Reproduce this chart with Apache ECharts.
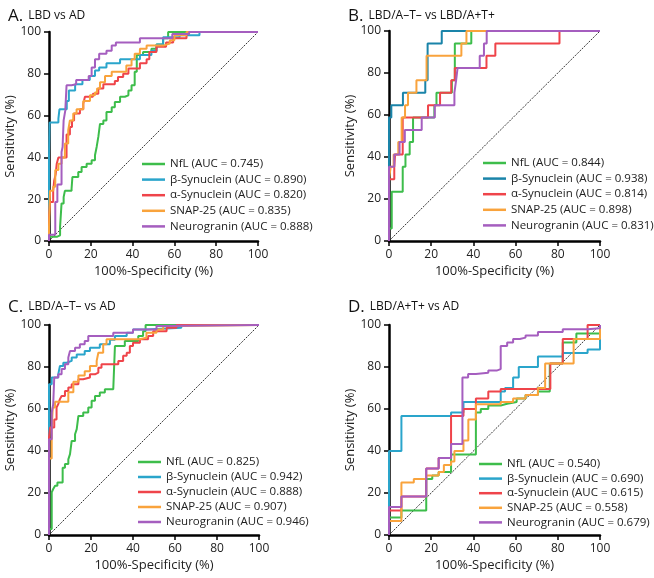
<!DOCTYPE html>
<html><head><meta charset="utf-8">
<script src="https://cdn.jsdelivr.net/npm/echarts@6/dist/echarts.min.js"></script>
<style>html,body{margin:0;padding:0;background:#fff}#c{width:654px;height:578px}</style>
</head><body><div id="c"></div>
<script>
// ---- data (x = 100%-Specificity, y = Sensitivity), step points ----
const markers = ['NfL','β-Synuclein','α-Synuclein','SNAP-25','Neurogranin'];
const panelLetters = ['A.','B.','C.','D.'];
const panelTitles = ['LBD vs AD','LBD/A\u2013T\u2013 vs LBD/A+T+','LBD/A\u2013T\u2013 vs AD','LBD/A+T+ vs AD'];
const aucA = ['0.745','0.890','0.820','0.835','0.888'];
const aucB = ['0.844','0.938','0.814','0.898','0.831'];
const aucC = ['0.825','0.942','0.888','0.907','0.946'];
const aucD = ['0.540','0.690','0.615','0.558','0.679'];
const xTicks = [0,20,40,60,80,100];
const yTicks = [0,20,40,60,80,100];

const A_NfL = [[0,0],[0,2],[3.7,2.7],[5.3,6.7],[6,18],[7,21],[7.6,24],[10.8,25],[11.2,30.6],[14,33],[15.6,35.4],[18,37],[20.4,38.6],[22,41],[22.8,45],[23.6,49.8],[24.4,56],[26,57.7],[27.5,61.7],[30,64],[31.5,66.5],[34,69],[36.3,69.7],[38,72],[39.5,74.5],[41,81],[42,89],[45,90.4],[49,92],[51.4,94],[54.6,97],[57,100],[100,100]];
const A_Beta = [[0,0],[0,40],[0.3,56.7],[4.5,58.5],[5,63],[8.5,67],[9.5,72],[12.5,75],[16,77],[19.5,79],[22,81.6],[24,83],[27.5,85],[34,87],[43.5,89],[49,91],[51.5,94],[54.6,97.5],[62.5,98.5],[72,100],[100,100]];
const A_Alpha = [[0,0],[0,11.5],[0.5,18.7],[2,24],[2.5,29],[3.2,32],[3.7,37],[4.5,40],[8.4,51],[10,54.5],[11,57.7],[12,61],[14.8,63],[16.4,65.7],[17.2,69],[21,70.5],[23.6,73],[26,75],[31.5,76.5],[33,78.5],[35.5,80],[38,82.5],[43.5,85],[46.7,87],[48,90.4],[51.4,93],[56,95],[59.4,97],[65.8,99],[67,100],[100,100]];
const A_SNAP = [[0,0],[0,6.7],[0.5,24],[2,26],[3,34],[4.5,37],[6,40],[7.6,46.6],[9.2,53],[10,57.7],[11.6,61],[13.2,63],[16.4,67],[19.6,69.7],[22,71],[23,73],[24.4,76],[26.8,79],[30,81],[37,84],[39.5,87],[41,89.6],[43.5,92],[46.7,93.6],[55,94.5],[57.8,96],[60,98.4],[65.8,100],[100,100]];
const A_Neuro = [[0,0],[0,3],[3,18.7],[4,27],[6,42.6],[6.5,45],[7,57.7],[7.8,62.5],[8.4,74.5],[10.8,75],[13,77],[19,79],[20.4,83],[22,87],[24,89.6],[27.5,91],[30,93.6],[32,95],[43.5,97],[59,99],[67,100],[100,100]];

const B_NfL = [[0,0],[0,5.9],[1.3,23.5],[6.5,35.3],[7.8,41.2],[9.8,47.1],[11.4,58.8],[21.5,64.7],[22.5,70.6],[29.8,76.5],[31.2,94.1],[39,100],[100,100]];
const B_Beta = [[0,0],[0,58.8],[1.1,64.7],[6.6,70.6],[17.2,76.5],[18.3,94.1],[25,100],[100,100]];
const B_Alpha = [[0,0],[0,29.4],[2.5,35.3],[2.9,41.2],[6.5,58.8],[18.5,64.7],[24.2,70.6],[29.5,76.5],[31.2,82.4],[46.2,88.2],[50.4,94.1],[80.8,100],[100,100]];
const B_SNAP = [[0,0],[0,29.4],[0.8,35.3],[2.2,41.2],[4.4,47.1],[6,58.8],[7.6,64.7],[9,70.6],[13,76.5],[17.8,88.2],[34.3,94.1],[36.7,100],[100,100]];
const B_Neuro = [[0,0],[0,35.3],[2.5,41.2],[5,47.1],[7.5,52.9],[15.5,58.8],[21.7,64.7],[31,70.6],[31.8,76.5],[32.5,82.4],[43,88.2],[45,94.1],[46.3,100],[100,100]];

const C_NfL = [[0,0],[0,2.9],[1.3,20.3],[2,21.9],[2.9,23.5],[4,25],[6.5,32],[7.6,33.8],[9.2,36],[10,38.5],[10.8,44.8],[12.4,48],[13.2,50.4],[14,56.7],[16.3,58.3],[18.7,60.7],[20.3,63.9],[21.9,66.2],[24.2,67.8],[26.6,69.4],[30.6,70.2],[31.4,90],[36.1,92.4],[42.5,94.8],[44.8,97],[46,100],[100,100]];
const C_Beta = [[0,0],[0,71.8],[1.3,75],[4.4,76.5],[5.2,80.5],[6.8,82],[8.4,82.9],[10.8,84.5],[13.2,86],[17,87.6],[19.5,89.2],[24.2,90.8],[29,93],[31.4,94.8],[37,96.3],[40,97.9],[46.4,98.7],[63,100],[100,100]];
const C_Alpha = [[0,0],[0,46.4],[0.5,51.2],[2.5,55],[3.6,60.7],[4.4,62.3],[5.2,64.7],[6,66.2],[7.6,68.6],[9.2,70.2],[10.8,71.8],[14,74.2],[16.3,75],[19.5,76.5],[21.9,77.3],[23.5,79.7],[25,81.3],[33,82.9],[35.3,85.3],[37,86.8],[38.5,90],[40,91.6],[43.3,93.2],[47.2,94.8],[49.6,97],[56,98.7],[60.7,100],[100,100]];
const C_SNAP = [[0,0],[0,36.4],[1.3,50.4],[1.8,60.7],[2.9,63.5],[9.2,68],[11.6,73],[14,76],[17,78],[19.5,80.5],[22.7,82.9],[23.5,86.8],[25.8,90.8],[27.4,93.2],[43.3,94],[46.4,96.3],[51.2,97.9],[54.4,99.5],[60,100],[100,100]];
const C_Neuro = [[0,0],[0,45.6],[1.3,58.3],[2,62.3],[2.5,75],[4.4,76.5],[6,79],[7.6,81.3],[9.2,84.5],[10,87.6],[12.4,89.2],[14.7,90.8],[17,92.4],[18.7,94.8],[30.6,96.3],[40,97.9],[51.2,99.5],[54.4,100],[100,100]];

const D_NfL = [[0,0],[0,8.3],[5.88,11.7],[17.65,26.7],[20.5,28.3],[23.53,30],[29.41,38.3],[41.18,58.3],[43.5,60],[47.06,61.7],[52.94,62.5],[56,63.3],[60.5,65],[64.71,66.7],[70.59,68.3],[76.2,81.7],[82.35,91.7],[88.8,96],[100,100]];
const D_Beta = [[0,0],[0,40],[5.88,56.7],[29.41,58.3],[35.29,63.3],[52.94,68.3],[55,70],[58.82,75],[61.5,80],[70.59,85],[82.35,86.7],[94.12,88.3],[100,100]];
const D_Alpha = [[0,0],[0,11.7],[5.88,18.3],[17.65,31.7],[23.53,36.7],[29.41,56.7],[35.29,60],[41.18,65],[47.06,68.3],[52.94,69.5],[76.47,81.7],[82.35,93.3],[94.12,100],[100,100]];
const D_SNAP = [[0,0],[0,6.7],[5.88,25],[11.76,26.7],[17.65,28.3],[23.53,30],[26,33.3],[29.41,35],[31,40],[35.29,45],[37.6,55],[41.18,62.3],[52.94,63.3],[58.82,65],[64.71,66.7],[70.59,70],[74,81.7],[87.5,93.3],[100,100]];
const D_Neuro = [[0,0],[0,13.3],[5.88,18.3],[17.65,31.7],[23.53,36.7],[29.41,43.3],[34.8,75],[37.5,76.7],[41.18,77.3],[47.06,78.3],[51,79],[52.94,90],[56,91.7],[58.82,93.3],[62,94],[64.71,95],[70.59,96.7],[82.35,98],[94.12,98.5],[100,100]];

const diagonal = [[0,0],[100,100]];

const panelData = [
  [A_NfL,A_Beta,A_Alpha,A_SNAP,A_Neuro],
  [B_NfL,B_Beta,B_Alpha,B_SNAP,B_Neuro],
  [C_NfL,C_Beta,C_Alpha,C_SNAP,C_Neuro],
  [D_NfL,D_Beta,D_Alpha,D_SNAP,D_Neuro]
];
const panelAUC = [aucA,aucB,aucC,aucD];

// ---- styles / layout ----
const FONT = '"Open Sans", "Noto Sans", sans-serif';
const colorsAll = ['#3dbd4b','#2aa5cb','#ef444a','#f9a33c','#a55ebf'];
const colorsB = ['#3dbd4b','#1a84a9','#ef444a','#f9a33c','#a55ebf'];
const grids = [
  {left:49, top:32, width:209, height:209},
  {left:389, top:31, width:211, height:210},
  {left:49, top:325, width:210, height:210},
  {left:389, top:325, width:211, height:210}
];
const titlePos = [[3,2],[343,2],[3,293],[343,293]];
const legendPos = [[142,158,3.6],[483,157,3.6],[138,456,3],[479,458,2.6]];

const chart = echarts.init(document.getElementById('c'), null, {renderer:'canvas'});
const option = {
  animation:false,
  backgroundColor:'#fff',
  title: [], grid: [], xAxis: [], yAxis: [], legend: [], series: []
};
for (let p=0;p<4;p++){
  option.title.push({
    text:'{a|'+panelLetters[p]+'} {b|'+panelTitles[p]+'}',
    left:titlePos[p][0], top:titlePos[p][1],
    textStyle:{fontWeight:'normal', rich:{
      a:{fontSize:17,fontFamily:FONT,color:'#111',fontWeight:'normal'},
      b:{fontSize:12,fontFamily:FONT,color:'#111',fontWeight:'normal'}}}
  });
  option.grid.push(Object.assign({containLabel:false}, grids[p]));
  const axisCommon = {
    type:'value', min:0, max:100, interval:20, gridIndex:p,
    axisLine:{show:true, onZero:false, lineStyle:{color:'#000', width:2.5}},
    axisTick:{show:true, inside:false, length:5, lineStyle:{color:'#000', width:1.5}},
    splitLine:{show:false},
    axisLabel:{fontSize:12, fontFamily:FONT, color:'#222'},
    nameLocation:'middle',
    nameTextStyle:{fontSize:13, fontFamily:FONT, color:'#222'}
  };
  option.xAxis.push(Object.assign({}, axisCommon, {name:'100%-Specificity (%)', nameGap:24, axisLabel:Object.assign({}, axisCommon.axisLabel,{margin:8})}));
  option.yAxis.push(Object.assign({}, axisCommon, {name:'Sensitivity (%)', nameGap:29, axisLabel:Object.assign({}, axisCommon.axisLabel,{margin:8})}));
  const cols = p===1 ? colorsB : colorsAll;
  const names = markers.map((m,i)=> m+' (AUC = '+panelAUC[p][i]+')');
  option.series.push({
    type:'line', xAxisIndex:p, yAxisIndex:p, data:diagonal, symbol:'none', silent:true,
    lineStyle:{color:'#000', width:0.8, type:[2,1.2]}, z:1
  });
  for (let i=0;i<5;i++){
    option.series.push({
      name:names[i], type:'line', xAxisIndex:p, yAxisIndex:p, step:'end',
      data:panelData[p][i], symbol:'none', clip:false, color:cols[i],
      lineStyle:{color:cols[i], width:2}, z:2+i
    });
  }
  option.legend.push({
    data:names, orient:'vertical', left:legendPos[p][0], top:legendPos[p][1],
    icon:'rect', itemWidth:23, itemHeight:2.5, itemGap:legendPos[p][2], selectedMode:false,
    textStyle:{fontSize:11.5, fontFamily:FONT, color:'#222'}, padding:0
  });
}
chart.setOption(option);
</script>
</body></html>
